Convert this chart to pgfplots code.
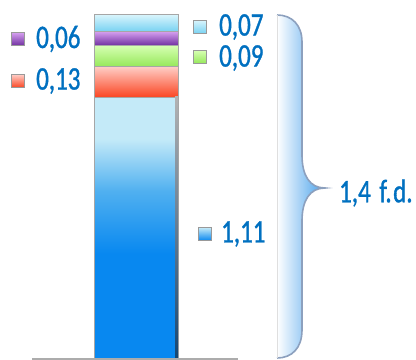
\documentclass[border=0pt]{standalone}
\usepackage{pgfplots}
\pgfplotsset{compat=1.18}
\usepackage{fontspec}
\setmainfont{Carlito}[FakeStretch=0.76,FakeBold=1]
\definecolor{lbl}{RGB}{0,112,192}
\definecolor{bluetop}{RGB}{196,234,248}
\definecolor{bluemid}{RGB}{80,176,240}
\definecolor{bluebot}{RGB}{8,136,240}
\definecolor{redtop}{RGB}{255,205,198}
\definecolor{redbot}{RGB}{250,70,35}
\definecolor{greentop}{RGB}{214,255,178}
\definecolor{greenbot}{RGB}{150,232,90}
\definecolor{purtop}{RGB}{214,160,240}
\definecolor{purbot}{RGB}{112,48,160}
\definecolor{cyantop}{RGB}{215,244,252}
\definecolor{cyanbot}{RGB}{120,210,242}
\definecolor{braceline}{RGB}{140,160,190}
\definecolor{bracefill}{RGB}{70,160,235}
\definecolor{edgedark}{RGB}{20,70,115}
\pgfdeclareverticalshading{blueshade}{100bp}{color(0bp)=(bluebot); color(45bp)=(bluebot); color(57bp)=(bluemid); color(67bp)=(bluetop); color(100bp)=(bluetop)}
\begin{document}
\begin{tikzpicture}
\path[use as bounding box] (0,0) rectangle (416bp,360bp);
\begin{axis}[at={(0,0)}, anchor=south west, scale only axis,
  width=416bp, height=360bp, xmin=0, xmax=416, ymin=-0.0085, ymax=1.5234,
  hide axis, ybar stacked, bar width=84, clip=false]
\addplot[draw=gray!70, line width=0.8bp, shading=blueshade] coordinates {(136,1.11)};
\addplot[draw=gray!70, line width=0.8bp, top color=redtop, bottom color=redbot] coordinates {(136,0.13)};
\addplot[draw=gray!70, line width=0.8bp, top color=greentop, bottom color=greenbot] coordinates {(136,0.09)};
\addplot[draw=gray!70, line width=0.8bp, top color=purtop, bottom color=purbot] coordinates {(136,0.06)};
\addplot[draw=gray!70, line width=0.8bp, top color=cyantop, bottom color=cyanbot] coordinates {(136,0.07)};
\end{axis}
\begin{scope}[x=1bp,y=1bp]
% dark right edge of blue segment
\shade[top color=gray!60, bottom color=edgedark] (175,2) rectangle (178,263);
% base line
\draw[line width=2bp, color=gray!65] (32,1.5) -- (238,1.5);
% brace
\fill[left color=white, right color=bracefill]
  (277,345) .. controls (292,345) and (302,335) .. (302,318) -- (302,205)
  .. controls (302,184) and (310,172) .. (325,172)
  .. controls (310,172) and (302,160) .. (302,139) -- (302,30)
  .. controls (302,12) and (292,2) .. (277,2) -- cycle;
\draw[line width=1.6bp, braceline]
  (277,345) .. controls (292,345) and (302,335) .. (302,318) -- (302,205)
  .. controls (302,184) and (310,172) .. (325,172)
  .. controls (310,172) and (302,160) .. (302,139) -- (302,30)
  .. controls (302,12) and (292,2) .. (277,2);
\draw[line width=0.6bp, gray!25] (277,345) -- (277,2);
% legend squares
\tikzset{sq/.style={draw=gray!80, line width=0.6bp, minimum size=13bp, inner sep=0pt}}
\node[sq, top color=purtop, bottom color=purbot] at (18,321) {};
\node[sq, top color=redtop, bottom color=redbot] at (18,279) {};
\node[sq, top color=cyantop, bottom color=cyanbot] at (200,333) {};
\node[sq, top color=greentop, bottom color=greenbot] at (200,303) {};
\node[sq, top color=bluetop, bottom color=bluebot] at (205,126) {};
% labels
\tikzset{lb/.style={anchor=west, inner sep=0pt, text=lbl, font=\fontsize{33}{33}\selectfont}}
\node[lb] at (36,321) {0,06};
\node[lb] at (36,279) {0,13};
\node[lb] at (219,333) {0,07};
\node[lb] at (219,302) {0,09};
\node[lb] at (221,126) {1,11};
\node[lb] at (339,167) {1,4\hspace{3bp} f.\hspace{1.5bp}d.};
\end{scope}
\end{tikzpicture}
\end{document}
